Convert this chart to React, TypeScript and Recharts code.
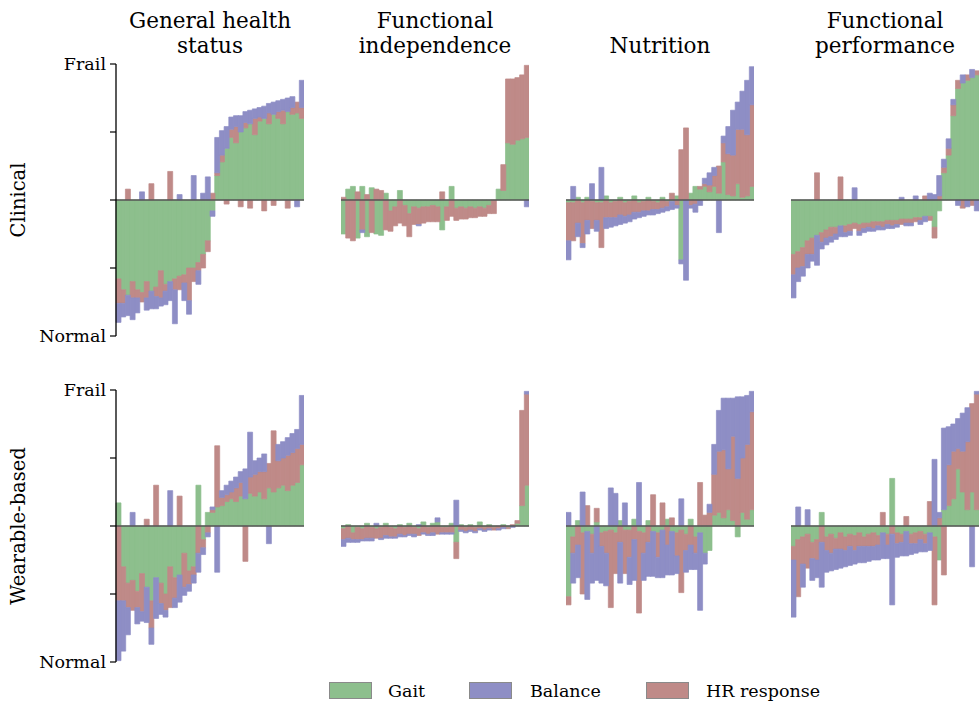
import React from 'react';
import { BarChart, Bar, XAxis, YAxis, ReferenceLine } from 'recharts';

// ---------- data (contribution of each group to the frailty score, per patient, sorted) ----------
const clinicalGeneralGait = [-0.58,-0.66,-0.70,-0.60,-0.66,-0.68,-0.60,-0.67,-0.64,-0.52,-0.62,-0.60,-0.58,-0.56,-0.55,-0.50,-0.50,-0.46,-0.40,-0.30,-0.08,0.18,0.28,0.38,0.46,0.42,0.50,0.53,0.56,0.48,0.58,0.60,0.56,0.63,0.60,0.56,0.65,0.63,0.64,0.60];
const clinicalGeneralHr = [-0.18,-0.10,0.08,-0.12,-0.06,-0.07,-0.12,0.12,-0.07,-0.20,-0.05,0.21,-0.08,-0.10,-0.06,-0.24,-0.10,-0.06,-0.10,-0.08,0.05,0.02,0.05,-0.03,0.06,0.12,-0.05,0.04,-0.06,0.12,0.03,-0.08,0.08,-0.04,0.05,0.10,-0.06,0.05,0.08,0.08];
const clinicalGeneralBalance = [-0.14,-0.10,-0.15,-0.16,-0.11,0.06,-0.09,-0.13,-0.09,-0.06,-0.10,-0.14,-0.25,0.04,-0.13,-0.10,0.18,-0.10,0.05,0.17,-0.04,0.26,0.18,0.16,0.09,0.08,0.12,0.08,0.10,0.07,0.07,0.09,0.07,0.09,0.08,0.08,0.10,0.08,-0.05,0.20];

const clinicalIndepGait = [-0.25,0.08,0.10,-0.28,0.10,-0.27,0.09,-0.25,-0.26,0.05,-0.08,-0.05,0.07,-0.04,-0.10,-0.05,-0.06,-0.05,-0.05,-0.04,-0.05,-0.22,-0.05,0.10,-0.06,-0.05,-0.06,-0.05,-0.06,-0.05,-0.06,-0.04,0.00,0.08,0.07,0.42,0.41,0.44,0.45,0.46];
const clinicalIndepHr = [0.02,-0.28,-0.30,0.06,-0.22,0.04,-0.24,0.08,0.07,-0.22,-0.15,-0.14,-0.17,-0.15,-0.17,-0.13,-0.12,-0.12,-0.11,-0.12,-0.11,0.06,-0.10,-0.12,-0.09,-0.09,-0.08,-0.08,-0.07,-0.07,-0.06,-0.06,-0.10,0.00,0.19,0.47,0.48,0.46,0.47,0.53];
const clinicalIndepBalance = [0,0,0,0,-0.02,0,0,0,0,0,0,0,0,0,0,0,-0.01,0,0,0,0,0,0,0,0,0,0,0,0,0,0,0,0,0,0,0,0,0,0,-0.05];

const clinicalNutritionGait = [-0.02,-0.02,0.02,-0.02,0.02,-0.01,-0.02,-0.02,0.03,-0.02,-0.01,0.02,-0.02,-0.01,0.03,-0.02,-0.01,0.02,-0.01,-0.02,0.02,-0.01,-0.01,0.03,-0.44,0.00,0.05,0.10,0.08,0.10,0.06,0.10,0.05,0.28,0.04,0.03,0.12,0.02,0.03,0.10];
const clinicalNutritionHr = [-0.28,-0.28,-0.17,-0.30,-0.15,-0.20,-0.13,-0.33,-0.13,-0.11,-0.12,-0.11,-0.10,-0.10,-0.09,-0.07,-0.07,-0.08,-0.06,-0.05,-0.06,-0.04,0.05,-0.04,0.37,0.53,-0.04,-0.03,0.02,0.02,0.05,0.08,0.20,0.14,0.30,0.30,0.40,0.50,0.45,0.60];
const clinicalNutritionBalance = [-0.14,0.10,-0.10,-0.03,-0.10,0.12,-0.08,0.24,-0.08,-0.07,-0.06,-0.07,-0.05,-0.05,-0.05,-0.04,-0.04,-0.03,-0.04,-0.03,-0.03,-0.03,-0.06,-0.02,-0.03,-0.59,-0.02,-0.06,-0.04,0.04,0.09,0.06,-0.24,0.05,0.20,0.33,0.20,0.28,0.40,0.28];

const clinicalPerfGait = [-0.40,-0.38,-0.35,-0.30,-0.28,-0.26,-0.24,-0.22,-0.20,-0.20,-0.19,-0.19,-0.18,-0.17,-0.18,-0.17,-0.17,-0.16,-0.16,-0.16,-0.15,-0.15,-0.15,-0.14,-0.14,-0.14,-0.13,-0.13,-0.12,-0.12,-0.20,-0.08,0.20,0.33,0.62,0.82,0.86,0.88,0.90,0.92];
const clinicalPerfHr = [-0.15,-0.12,-0.14,-0.10,-0.12,0.20,-0.07,-0.06,-0.07,-0.05,0.17,-0.05,-0.05,-0.04,-0.05,-0.04,-0.03,-0.05,-0.03,-0.04,-0.03,-0.04,-0.03,-0.04,-0.03,-0.03,-0.03,-0.02,0.03,-0.03,-0.08,0.03,0.04,0.05,0.08,0.06,-0.06,0.04,-0.04,0.03];
const clinicalPerfBalance = [-0.17,-0.10,-0.07,-0.10,-0.05,-0.22,-0.05,-0.05,-0.04,-0.04,-0.08,-0.03,-0.03,0.09,-0.03,-0.03,-0.03,-0.02,-0.03,-0.02,-0.03,-0.02,-0.02,0.02,-0.02,-0.02,0.03,-0.03,-0.04,0.05,0.04,0.15,0.06,0.07,0.04,-0.04,0.06,-0.05,0.06,-0.08];

const wearableGeneralGait = [0.17,-0.30,-0.42,-0.40,-0.48,-0.35,-0.45,-0.55,-0.38,-0.42,-0.50,-0.30,-0.38,-0.36,-0.20,-0.33,-0.30,0.30,-0.10,0.10,0.10,0.14,0.15,0.18,0.20,0.18,0.22,0.20,0.24,0.22,0.25,0.20,0.28,0.25,0.28,0.30,0.26,0.30,0.32,0.45];
const wearableGeneralHr = [-0.55,-0.25,-0.18,-0.22,-0.12,-0.28,0.05,-0.20,0.30,-0.15,-0.12,-0.30,-0.15,0.22,-0.25,-0.10,-0.06,-0.20,-0.06,-0.05,0.02,0.45,0.06,0.05,0.05,0.10,0.10,-0.26,0.12,0.16,0.15,0.20,0.18,0.45,0.20,0.20,0.26,0.24,0.25,0.15];
const wearableGeneralBalance = [-0.44,-0.37,-0.20,0.10,-0.12,-0.07,-0.26,-0.12,-0.30,-0.08,-0.05,0.26,-0.07,-0.20,-0.06,-0.05,-0.06,-0.14,-0.05,-0.03,0.02,-0.34,0.05,0.07,0.08,0.08,0.08,0.22,0.33,0.10,0.10,0.13,-0.13,0.00,0.12,0.12,0.13,0.14,0.14,0.36];

const wearableIndepGait = [-0.02,0.01,-0.05,-0.01,-0.02,0.02,-0.01,-0.02,-0.01,0.02,-0.01,-0.02,0.01,-0.01,0.02,-0.01,-0.02,0.03,-0.01,0.02,0.03,-0.01,-0.01,0.02,-0.12,0.01,-0.01,0.01,-0.01,0.03,-0.01,0.01,-0.01,0.00,0.01,-0.01,0.00,0.02,0.15,0.30];
const wearableIndepHr = [-0.08,-0.09,-0.05,-0.09,-0.08,-0.09,-0.08,-0.07,-0.08,-0.07,-0.07,-0.06,-0.06,-0.06,-0.06,-0.05,-0.05,-0.05,-0.05,-0.05,-0.06,-0.04,-0.04,-0.05,-0.12,-0.03,-0.03,-0.03,-0.03,-0.02,-0.02,-0.02,-0.02,-0.02,-0.01,-0.01,0.01,0.02,0.70,0.67];
const wearableIndepBalance = [-0.05,-0.03,-0.02,-0.02,-0.01,-0.02,-0.02,0.02,-0.01,-0.02,-0.01,-0.01,-0.02,-0.01,-0.01,-0.02,0.01,-0.01,-0.01,-0.02,0.03,-0.01,-0.01,-0.01,0.19,-0.01,-0.01,-0.01,-0.01,-0.01,-0.01,-0.01,0.00,-0.01,-0.01,0.00,-0.01,0.00,0.00,0.02];

const wearableNutritionGait = [-0.52,-0.08,0.04,-0.05,-0.04,-0.06,0.03,-0.05,-0.04,-0.03,-0.05,0.04,-0.03,-0.03,0.05,-0.04,-0.05,0.04,-0.04,-0.05,-0.03,0.05,-0.04,-0.05,-0.03,-0.06,0.05,-0.08,-0.05,-0.20,-0.18,0.08,0.10,0.06,0.12,0.04,-0.08,0.10,0.05,0.12];
const wearableNutritionHr = [-0.06,-0.12,-0.14,-0.45,0.15,-0.14,0.10,-0.10,-0.16,-0.57,-0.30,-0.12,-0.32,-0.20,-0.10,-0.60,-0.15,-0.12,0.23,-0.18,0.17,-0.14,0.06,-0.17,-0.46,-0.12,-0.14,-0.12,0.32,0.08,0.10,0.30,0.45,0.50,0.30,0.62,0.35,0.40,0.55,0.72];
const wearableNutritionBalance = [0.10,-0.22,-0.24,0.25,-0.50,-0.22,-0.40,-0.27,-0.24,0.28,0.24,-0.30,0.17,-0.20,-0.30,0.32,-0.20,-0.25,-0.33,-0.15,-0.35,-0.22,-0.32,-0.13,0.20,-0.16,-0.18,-0.12,-0.57,-0.08,0.06,0.22,0.30,0.38,0.52,0.28,0.60,0.45,0.36,0.15];

const wearablePerfGait = [-0.15,-0.10,-0.08,-0.06,-0.12,-0.10,0.10,-0.08,-0.06,-0.09,-0.05,-0.08,-0.06,-0.07,-0.05,-0.08,-0.06,-0.05,-0.07,-0.05,-0.06,0.35,-0.05,-0.06,-0.04,-0.06,-0.05,-0.04,-0.06,-0.05,-0.08,-0.25,0.12,0.15,0.20,0.42,0.25,0.12,0.25,0.12];
const wearablePerfHr = [-0.10,-0.42,-0.20,-0.25,-0.12,-0.15,-0.12,-0.10,-0.14,-0.08,-0.12,-0.10,-0.09,-0.11,-0.10,-0.07,-0.09,-0.10,-0.07,0.10,-0.08,-0.06,-0.08,-0.06,0.07,-0.07,-0.08,-0.06,-0.07,0.18,-0.50,0.06,-0.36,0.30,0.35,0.15,0.30,0.50,0.65,0.85];
const wearablePerfBalance = [-0.42,0.14,-0.17,0.12,-0.16,-0.13,-0.33,-0.16,-0.13,-0.15,-0.14,-0.12,-0.14,-0.10,-0.12,-0.12,-0.11,-0.10,-0.11,-0.19,-0.10,-0.52,-0.10,-0.10,-0.18,-0.08,-0.07,-0.09,-0.06,-0.13,0.49,0.04,0.60,0.28,0.20,0.22,0.28,0.25,-0.30,0.02];

const columnTitles = [['General health', 'status'], ['Functional', 'independence'], ['Nutrition'], ['Functional', 'performance']];
const rowLabels = ['Clinical', 'Wearable-based'];
const yTicks = [-1, -0.5, 0, 0.5, 1];
const legendItems = ['Gait', 'Balance', 'HR response'];

// ---------- styling ----------
const GREEN = '#8dbf8d';
const BLUE = '#8e8ec5';
const RED = '#bf8a88';
const FONT = '"DejaVu Serif", serif';
const PLOT_W = 188;
const PLOT_H = 272;
const PAD = 14;
const colLefts = [116, 341, 566, 791];
const rowTops = [64, 390];

const panels = [
  { row: 0, col: 0, gait: clinicalGeneralGait, hr: clinicalGeneralHr, balance: clinicalGeneralBalance },
  { row: 0, col: 1, gait: clinicalIndepGait, hr: clinicalIndepHr, balance: clinicalIndepBalance },
  { row: 0, col: 2, gait: clinicalNutritionGait, hr: clinicalNutritionHr, balance: clinicalNutritionBalance },
  { row: 0, col: 3, gait: clinicalPerfGait, hr: clinicalPerfHr, balance: clinicalPerfBalance },
  { row: 1, col: 0, gait: wearableGeneralGait, hr: wearableGeneralHr, balance: wearableGeneralBalance },
  { row: 1, col: 1, gait: wearableIndepGait, hr: wearableIndepHr, balance: wearableIndepBalance },
  { row: 1, col: 2, gait: wearableNutritionGait, hr: wearableNutritionHr, balance: wearableNutritionBalance },
  { row: 1, col: 3, gait: wearablePerfGait, hr: wearablePerfHr, balance: wearablePerfBalance },
];

function Panel({ row, col, gait, hr, balance }: any) {
  const data = gait.map((g: number, i: number) => ({ id: i, gait: g, hr: hr[i], balance: balance[i] }));
  const showAxis = col === 0;
  const axisW = showAxis ? 110 : 0;
  return (
    <div style={{ position: 'absolute', left: colLefts[col] - axisW, top: rowTops[row] - PAD }}>
      <BarChart
        width={PLOT_W + axisW}
        height={PLOT_H + 2 * PAD}
        data={data}
        margin={{ top: PAD, bottom: PAD, left: 0, right: 0 }}
        stackOffset="sign"
        barCategoryGap={0}
        barGap={0}
      >
        <XAxis dataKey="id" hide />
        <YAxis
          hide={!showAxis}
          width={axisW}
          domain={[-1, 1]}
          allowDataOverflow
          ticks={yTicks}
          interval={0}
          tickSize={6}
          tickMargin={4}
          axisLine={{ stroke: '#000', strokeWidth: 1.3 }}
          tickLine={{ stroke: '#000', strokeWidth: 1.2 }}
          tick={{ fill: '#000', fontSize: 17.5, fontFamily: FONT }}
          tickFormatter={(v: number) => (v === 1 ? 'Frail' : v === -1 ? 'Normal' : '')}
        />
        <Bar dataKey="gait" stackId="s" fill={GREEN} stroke={GREEN} strokeWidth={0.7} isAnimationActive={false} />
        <Bar dataKey="hr" stackId="s" fill={RED} stroke={RED} strokeWidth={0.7} isAnimationActive={false} />
        <Bar dataKey="balance" stackId="s" fill={BLUE} stroke={BLUE} strokeWidth={0.7} isAnimationActive={false} />
        <ReferenceLine y={0} stroke="#555" strokeWidth={1.3} />
      </BarChart>
    </div>
  );
}

const legendLayout = [
  { color: GREEN, patchLeft: 329, textLeft: 388 },
  { color: BLUE, patchLeft: 469, textLeft: 530 },
  { color: RED, patchLeft: 646, textLeft: 706 },
];

export default function App() {
  return (
    <div style={{ position: 'absolute', left: 0, top: 0, width: 980, height: 704, background: '#fff', fontFamily: FONT, color: '#000', overflow: 'hidden' }}>
      {columnTitles.map((lines, c) => (
        <div
          key={'t' + c}
          style={{
            position: 'absolute',
            left: colLefts[c] + PLOT_W / 2 - 120,
            width: 240,
            top: lines.length === 2 ? 8 : 33,
            textAlign: 'center',
            fontSize: 21.5,
            lineHeight: '25px',
            whiteSpace: 'nowrap',
          }}
        >
          {lines.map((l) => (
            <div key={l}>{l}</div>
          ))}
        </div>
      ))}
      {rowLabels.map((l, r) => (
        <div
          key={'r' + r}
          style={{
            position: 'absolute',
            left: 18,
            top: rowTops[r] + PLOT_H / 2,
            transform: 'translate(-50%, -50%) rotate(-90deg)',
            fontSize: 19.5,
            whiteSpace: 'nowrap',
          }}
        >
          {l}
        </div>
      ))}
      {panels.map((p, i) => (
        <Panel key={i} {...p} />
      ))}
      {legendItems.map((name, i) => (
        <React.Fragment key={name}>
          <div
            style={{
              position: 'absolute',
              left: legendLayout[i].patchLeft,
              top: 682,
              width: 43,
              height: 17,
              boxSizing: 'border-box',
              background: legendLayout[i].color,
              border: '1px solid #8a8a8a',
            }}
          />
          <div
            style={{
              position: 'absolute',
              left: legendLayout[i].textLeft,
              top: 679,
              fontSize: 17.5,
              lineHeight: '24px',
              whiteSpace: 'nowrap',
            }}
          >
            {name}
          </div>
        </React.Fragment>
      ))}
    </div>
  );
}
